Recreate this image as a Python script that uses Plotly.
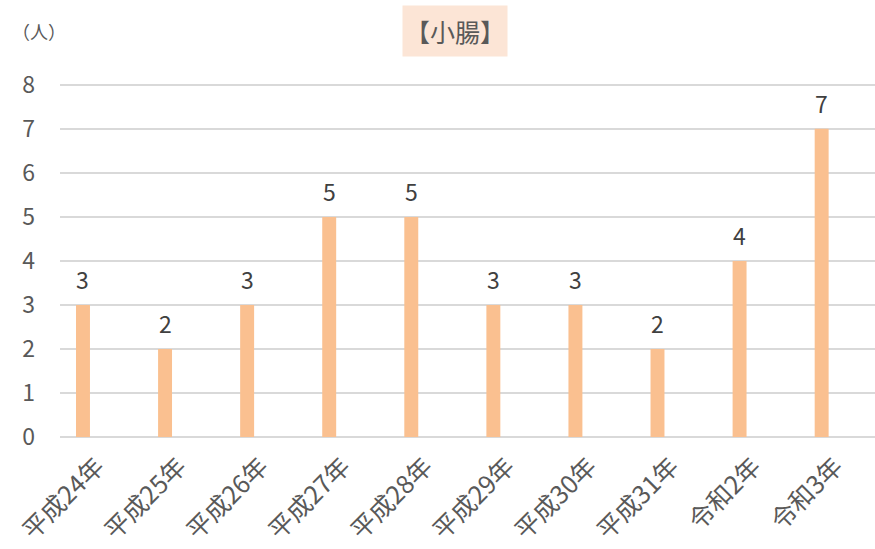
import plotly.graph_objects as go

categories = ["平成24年", "平成25年", "平成26年", "平成27年", "平成28年",
              "平成29年", "平成30年", "平成31年", "令和2年", "令和3年"]
values = [3, 2, 3, 5, 5, 3, 3, 2, 4, 7]
y_ticks = [0, 1, 2, 3, 4, 5, 6, 7, 8]

FONT = "Noto Sans CJK JP, Noto Sans, sans-serif"
W, H = 875, 549
ML, MR, MT, MB = 60, 0, 76, 111.5

xs = list(range(len(categories)))

fig = go.Figure()
fig.add_trace(go.Bar(
    x=xs,
    y=values,
    width=0.17,
    marker=dict(color="#FAC090", line=dict(width=0)),
    hoverinfo="x+y",
))

annotations = []
for xi, v in zip(xs, values):
    annotations.append(dict(
        x=xi, y=v, xref="x", yref="y", text=str(v), showarrow=False,
        yanchor="middle", xanchor="center", yshift=26,
        font=dict(size=23, color="#404040", family=FONT)))

plot_w = W - ML - MR
plot_h = H - MT - MB
def px_to_paper(px, py):
    return (px - ML) / plot_w, (H - MB - py) / plot_h

tx, ty = px_to_paper(455, 31)
annotations.append(dict(
    text="【小腸】", x=tx, y=ty, xref="paper", yref="paper",
    xanchor="center", yanchor="middle", showarrow=False,
    font=dict(size=25, color="#595959", family=FONT),
    bgcolor="#FCE5D6", width=104, height=50, borderpad=0))
ux, uy = px_to_paper(39, 31)
annotations.append(dict(
    text="（人）", x=ux, y=uy, xref="paper", yref="paper",
    xanchor="center", yanchor="middle", showarrow=False,
    font=dict(size=18, color="#595959", family=FONT)))

fig.update_layout(
    width=W, height=H,
    margin=dict(l=ML, r=MR, t=MT, b=MB),
    paper_bgcolor="white", plot_bgcolor="white",
    showlegend=False,
    font=dict(family=FONT, color="#595959"),
    xaxis=dict(
        tickmode="array",
        tickvals=xs,
        ticktext=categories,
        range=[-0.28, 9.65],
        tickangle=-45,
        tickfont=dict(size=25, color="#595959", family=FONT),
        showgrid=False, zeroline=False, showline=False,
        ticks="",
        ticklabelstandoff=9,
        ticklabelshift=14,
    ),
    yaxis=dict(
        range=[0, 8.2],
        tickmode="array",
        tickvals=y_ticks,
        tickfont=dict(size=23, color="#595959", family=FONT),
        showgrid=True, gridcolor="#D9D9D9", gridwidth=1.5,
        zeroline=True, zerolinecolor="#D9D9D9", zerolinewidth=1.5,
        showline=False, ticks="",
        ticklabelstandoff=24,
    ),
    annotations=annotations,
)

fig.write_html("out.html")
